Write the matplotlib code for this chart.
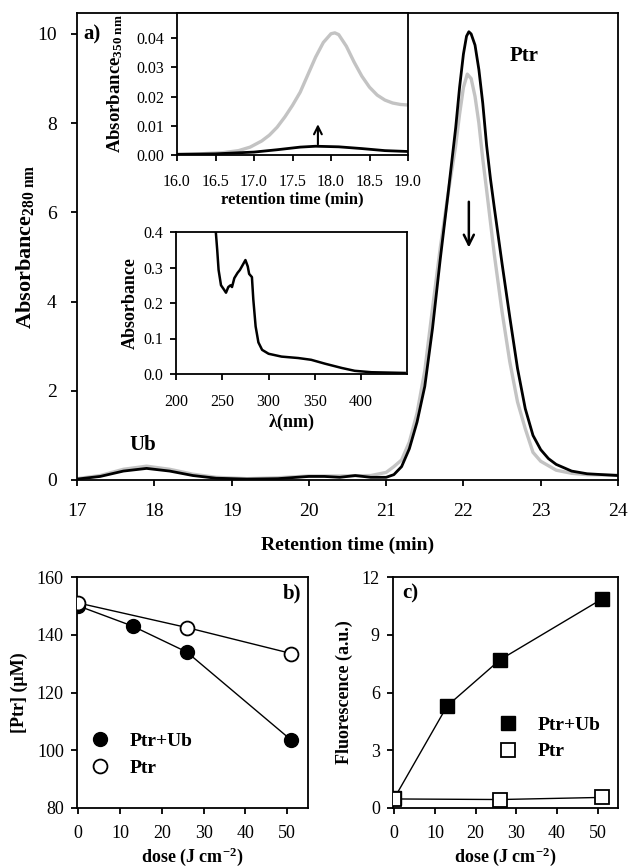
import matplotlib
matplotlib.use("Agg")
import matplotlib.pyplot as plt

plt.rcParams['font.family'] = ['Liberation Serif', 'DejaVu Serif']
plt.rcParams['mathtext.fontset'] = 'custom'
plt.rcParams['mathtext.rm'] = 'Liberation Serif'
plt.rcParams['mathtext.bf'] = 'Liberation Serif:bold'
plt.rcParams['mathtext.it'] = 'Liberation Serif:italic'

# ---- main chromatogram (280 nm) ----
t_black = [17.0, 17.3, 17.6, 17.9, 18.2, 18.5, 18.8, 19.2, 19.6, 20.0, 20.2, 20.4, 20.6, 20.8, 21.0,
           21.1, 21.2, 21.3, 21.4, 21.5, 21.6, 21.7, 21.8, 21.9, 21.95, 22.0, 22.04, 22.07, 22.1, 22.15,
           22.2, 22.25, 22.3, 22.35, 22.4, 22.5, 22.6, 22.7, 22.8, 22.9, 23.0, 23.1, 23.2, 23.4, 23.6, 24.0]
a_black = [0.02, 0.08, 0.20, 0.26, 0.20, 0.10, 0.04, 0.02, 0.03, 0.08, 0.08, 0.06, 0.10, 0.06, 0.06,
           0.12, 0.30, 0.70, 1.30, 2.1, 3.4, 4.95, 6.4, 7.9, 8.8, 9.55, 9.95, 10.05, 10.0, 9.75,
           9.2, 8.45, 7.5, 6.75, 6.1, 4.85, 3.65, 2.5, 1.6, 1.0, 0.68, 0.48, 0.35, 0.20, 0.14, 0.10]

t_gray = [17.0, 17.3, 17.6, 17.9, 18.2, 18.5, 18.8, 19.2, 19.6, 20.0, 20.4, 20.8, 21.0,
          21.1, 21.2, 21.3, 21.4, 21.5, 21.6, 21.7, 21.8, 21.9, 21.95, 22.0, 22.05, 22.1, 22.15,
          22.2, 22.25, 22.3, 22.4, 22.5, 22.6, 22.7, 22.8, 22.9, 23.0, 23.2, 23.4, 23.6, 24.0]
a_gray = [0.03, 0.10, 0.24, 0.31, 0.24, 0.13, 0.06, 0.03, 0.05, 0.09, 0.09, 0.10, 0.17,
          0.30, 0.45, 0.85, 1.5, 2.45, 3.85, 5.2, 6.4, 7.5, 8.2, 8.8, 9.1, 9.0, 8.6,
          8.0, 7.2, 6.5, 5.05, 3.77, 2.65, 1.75, 1.15, 0.62, 0.42, 0.22, 0.15, 0.12, 0.11]

# ---- inset 1: 350 nm chromatogram ----
t350_gray = [16.0, 16.3, 16.6, 16.8, 16.95, 17.1, 17.2, 17.3, 17.4, 17.5, 17.6, 17.7, 17.8, 17.9,
             18.0, 18.05, 18.1, 18.2, 18.3, 18.4, 18.5, 18.6, 18.7, 18.8, 18.9, 19.0]
a350_gray = [0.0003, 0.0004, 0.0008, 0.0015, 0.0027, 0.0048, 0.0068, 0.0095, 0.0130, 0.0170, 0.0215, 0.0275,
             0.0335, 0.0385, 0.0415, 0.0418, 0.0412, 0.0372, 0.0318, 0.0270, 0.0232, 0.0205, 0.0188, 0.0178,
             0.0173, 0.0171]
t350_black = [16.0, 16.5, 17.0, 17.3, 17.6, 17.8, 18.1, 18.4, 18.7, 19.0]
a350_black = [0.0002, 0.0004, 0.0010, 0.0018, 0.0027, 0.0030, 0.0028, 0.0022, 0.0015, 0.0012]

# ---- inset 2: absorption spectrum ----
wl = [243, 244.5, 246, 248.6, 251.5, 254, 256.5, 259, 260.5, 263, 266.5, 269, 272, 275, 277.5,
      279, 282, 283.5, 286, 289, 293, 300, 314, 332, 346, 361, 379, 393, 411, 447]
absb = [0.40, 0.35, 0.293, 0.25, 0.239, 0.229, 0.245, 0.25, 0.245, 0.27, 0.285, 0.293, 0.307, 0.321, 0.303,
        0.282, 0.273, 0.21, 0.134, 0.089, 0.068, 0.057, 0.049, 0.045, 0.040, 0.029, 0.017, 0.009, 0.005, 0.003]

# ---- panel b ----
dose_ub = [0, 13, 26, 51]
ptr_ub = [150, 143, 134, 103.5]
dose_p = [0, 26, 51]
ptr_p = [151, 142.5, 133.5]

# ---- panel c ----
fl_ub = [0.5, 5.3, 7.7, 10.85]
fl_p = [0.47, 0.44, 0.55]

W, H = 629, 866
fig = plt.figure(figsize=(W / 100, H / 100), dpi=100)

def box(l, r, t, b):
    return [l / W, 1 - b / H, (r - l) / W, (b - t) / H]

GRAY = '#c3c3c3'
SP = 1.3

def style(ax, size, pad, length=4.5):
    for s in ax.spines.values():
        s.set_linewidth(SP)
    ax.tick_params(direction='out', width=SP, length=length, labelsize=size, pad=pad)

# main
ax = fig.add_axes(box(77, 618, 13, 480))
ax.plot(t_gray, a_gray, color=GRAY, lw=2.4, solid_joinstyle='round')
ax.plot(t_black, a_black, color='black', lw=2.0, solid_joinstyle='round')
ax.set_xlim(17, 24)
ax.set_ylim(0, 10.47)
ax.set_xticks(range(17, 25))
ax.set_yticks([0, 2, 4, 6, 8, 10])
style(ax, 14, 10)
ax.tick_params(axis='x', pad=12)
ax.set_xlabel('Retention time (min)', fontsize=14, fontweight='bold', labelpad=12)
ax.set_ylabel(r'$\mathbf{Absorbance_{280\ nm}}$', fontsize=16, labelpad=1)
ax.text(0.012, 0.955, 'a)', transform=ax.transAxes, fontsize=15, fontweight='bold', va='center')
ax.text(22.6, 9.5, 'Ptr', fontsize=15, fontweight='bold', va='center')
ax.text(17.85, 0.78, 'Ub', fontsize=15, fontweight='bold', ha='center', va='center')
ax.annotate('', xy=(22.07, 5.15), xytext=(22.07, 6.3),
            arrowprops=dict(arrowstyle='->', lw=1.8, color='black', mutation_scale=18))

# inset 1
ax1 = fig.add_axes(box(177, 408, 13, 155))
ax1.plot(t350_gray, a350_gray, color=GRAY, lw=2.4, solid_joinstyle='round')
ax1.plot(t350_black, a350_black, color='black', lw=2.0)
ax1.set_xlim(16, 19)
ax1.set_ylim(0, 0.0486)
ax1.set_xticks([16.0, 16.5, 17.0, 17.5, 18.0, 18.5, 19.0])
ax1.set_xticklabels(['16.0', '16.5', '17.0', '17.5', '18.0', '18.5', '19.0'])
ax1.set_yticks([0, 0.01, 0.02, 0.03, 0.04])
ax1.set_yticklabels(['0.00', '0.01', '0.02', '0.03', '0.04'])
style(ax1, 11.5, 5)
ax1.tick_params(axis='x', pad=9)
ax1.set_xlabel('retention time (min)', fontsize=12, fontweight='bold', labelpad=1)
ax1.set_ylabel(r'$\mathbf{Absorbance_{350\ nm}}$', fontsize=13.5, labelpad=8)
ax1.annotate('', xy=(17.83, 0.0115), xytext=(17.83, 0.0027),
             arrowprops=dict(arrowstyle='->', lw=1.5, color='black', mutation_scale=14))

# inset 2
ax2 = fig.add_axes(box(176, 407, 232, 374))
ax2.plot(wl, absb, color='black', lw=1.8, solid_joinstyle='round')
ax2.set_xlim(200, 449.5)
ax2.set_ylim(0, 0.4)
ax2.set_xticks([200, 250, 300, 350, 400])
ax2.set_yticks([0, 0.1, 0.2, 0.3, 0.4])
ax2.set_yticklabels(['0.0', '0.1', '0.2', '0.3', '0.4'])
style(ax2, 11.5, 5)
ax2.tick_params(axis='x', pad=10)
ax2.set_xlabel(r'$\mathbf{\lambda}$(nm)', fontsize=13, fontweight='bold', labelpad=1)
ax2.set_ylabel('Absorbance', fontsize=13, fontweight='bold', labelpad=3)

legprop = {'weight': 'bold', 'size': 14, 'family': 'Liberation Serif'}

# panel b
axb = fig.add_axes(box(77, 308, 577, 808))
axb.plot(dose_ub, ptr_ub, color='black', lw=1.0, marker='o', ms=10, mfc='black', mec='black',
         label='Ptr+Ub', zorder=3)
axb.plot(dose_p, ptr_p, color='black', lw=1.0, marker='o', ms=10, mfc='white', mec='black', mew=1.3,
         label='Ptr', zorder=4)
axb.set_xlim(-0.3, 55)
axb.set_ylim(80, 160)
axb.set_xticks([0, 10, 20, 30, 40, 50])
axb.set_yticks([80, 100, 120, 140, 160])
style(axb, 13, 5)
axb.tick_params(axis='x', pad=8)
axb.set_xlabel(r'dose (J cm$^{\mathbf{-2}}$)', fontsize=13, fontweight='bold', labelpad=2)
axb.set_ylabel('[Ptr] (μM)', fontsize=13, fontweight='bold', labelpad=6)
axb.text(0.97, 0.93, 'b)', transform=axb.transAxes, fontsize=15, fontweight='bold', ha='right', va='center')
axb.legend(loc='lower left', bbox_to_anchor=(0.0, 0.06), frameon=False, handlelength=0.6,
           handletextpad=1.2, labelspacing=0.45, prop=legprop)

# panel c
axc = fig.add_axes(box(393, 618, 577, 808))
axc.plot(dose_ub, fl_ub, color='black', lw=1.0, marker='s', ms=10, mfc='black', mec='black',
         label='Ptr+Ub', zorder=3)
axc.plot(dose_p, fl_p, color='black', lw=1.0, marker='s', ms=10, mfc='white', mec='black', mew=1.3,
         label='Ptr', zorder=4)
axc.set_xlim(-0.3, 55)
axc.set_ylim(0, 12)
axc.set_xticks([0, 10, 20, 30, 40, 50])
axc.set_yticks([0, 3, 6, 9, 12])
style(axc, 13, 5)
axc.tick_params(axis='x', pad=8)
axc.set_xlabel(r'dose (J cm$^{\mathbf{-2}}$)', fontsize=13, fontweight='bold', labelpad=2)
axc.set_ylabel('Fluorescence (a.u.)', fontsize=13, fontweight='bold', labelpad=6)
axc.text(0.04, 0.93, 'c)', transform=axc.transAxes, fontsize=15, fontweight='bold', ha='left', va='center')
axc.legend(loc='lower right', bbox_to_anchor=(1.0, 0.13), frameon=False, handlelength=0.6,
           handletextpad=1.2, labelspacing=0.45, prop=legprop)

fig.savefig('out.png', dpi=100)
